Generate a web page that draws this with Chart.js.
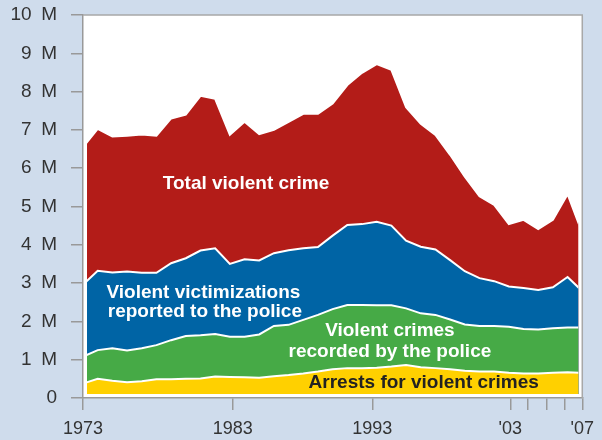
<!DOCTYPE html>
<html lang="en">
<head>
  <meta charset="UTF-8">
  <title>Violent crime</title>
  <style>
    html, body { margin: 0; padding: 0; background: #cfdcec; }
    .chartBox { width: 602px; height: 440px; }
  </style>
</head>
<body>
<div class="chartBox">
  <canvas id="myChart" width="602" height="440"></canvas>
</div>
<script src="https://cdn.jsdelivr.net/npm/chart.js"></script>
<script>
  // values in millions
  const years = [1973, 1974, 1975, 1976, 1977, 1978, 1979, 1980, 1981, 1982,
    1983, 1984, 1985, 1986, 1987, 1988, 1989, 1990, 1991, 1992,
    1993, 1994, 1995, 1996, 1997, 1998, 1999, 2000, 2001, 2002,
    2003, 2004, 2005, 2006, 2007];
  const totalCrime = [6.55, 7.03, 6.83, 6.85, 6.88, 6.85, 7.30, 7.40, 7.89, 7.81,
    6.87, 7.21, 6.89, 7.00, 7.21, 7.42, 7.42, 7.69, 8.17, 8.49,
    8.72, 8.57, 7.59, 7.16, 6.87, 6.35, 5.78, 5.27, 5.04, 4.54,
    4.65, 4.41, 4.65, 5.32, 4.31];
  const reportedToPolice = [2.96, 3.32, 3.28, 3.30, 3.27, 3.27, 3.52, 3.65, 3.85, 3.91,
    3.50, 3.62, 3.59, 3.78, 3.86, 3.91, 3.94, 4.24, 4.52, 4.54,
    4.60, 4.50, 4.11, 3.95, 3.88, 3.60, 3.31, 3.13, 3.05, 2.91,
    2.87, 2.82, 2.89, 3.16, 2.79];
  const recordedByPolice = [1.08, 1.25, 1.30, 1.24, 1.30, 1.38, 1.51, 1.62, 1.64, 1.67,
    1.60, 1.60, 1.66, 1.88, 1.91, 2.04, 2.17, 2.32, 2.43, 2.43,
    2.42, 2.42, 2.34, 2.21, 2.17, 2.05, 1.92, 1.88, 1.88, 1.86,
    1.80, 1.79, 1.82, 1.84, 1.84];
  const arrests = [0.38, 0.50, 0.45, 0.41, 0.44, 0.49, 0.49, 0.50, 0.51, 0.56,
    0.55, 0.54, 0.53, 0.57, 0.60, 0.64, 0.69, 0.75, 0.78, 0.78,
    0.79, 0.82, 0.86, 0.80, 0.78, 0.75, 0.71, 0.69, 0.69, 0.66,
    0.64, 0.64, 0.66, 0.67, 0.66];

  // tick marks sit where the original drawing put them
  const xTickAt = [1973, 1983.2, 1992.7, 2002.1, 2003.3, 2004.6, 2005.8, 2007];
  const xTickLabels = ['1973', '1983', '1993', "'03", '', '', '', "'07"];

  // in-chart labels: [text, year, value, colour]
  const notes = [
    ['Total violent crime', 1984.1, 5.59, '#ffffff'],
    ['Violent victimizations', 1981.2, 2.75, '#ffffff'],
    ['reported to the police', 1981.3, 2.24, '#ffffff'],
    ['Violent crimes', 1993.9, 1.75, '#ffffff'],
    ['recorded by the police', 1993.9, 1.20, '#ffffff'],
    ['Arrests for violent crimes', 1996.2, 0.39, '#222222']
  ];

  const FONT = "'Liberation Sans', Arial, Helvetica, sans-serif";

  function toPoints(arr) {
    return arr.map((v, i) => ({ x: years[i], y: v }));
  }

  const framePlugin = {
    id: 'frame',
    beforeDraw(chart) {
      const { ctx, chartArea: a } = chart;
      ctx.save();
      ctx.fillStyle = '#cfdcec';
      ctx.fillRect(0, 0, chart.width, chart.height);
      ctx.fillStyle = '#ffffff';
      ctx.fillRect(a.left, a.top, a.right - a.left, a.bottom - a.top);
      ctx.restore();
    },
    beforeDatasetsDraw(chart) {
      const { ctx, chartArea: a } = chart;
      ctx.save();
      ctx.beginPath();
      ctx.rect(a.left + 4, a.top + 4, a.right - a.left - 8, a.bottom - a.top - 8);
      ctx.clip();
    },
    afterDatasetsDraw(chart) {
      const { ctx, chartArea: a, scales } = chart;
      ctx.restore();

      ctx.save();
      ctx.strokeStyle = '#a8a8a8';
      ctx.lineWidth = 1.5;
      ctx.beginPath();
      ctx.moveTo(a.left, a.top);
      ctx.lineTo(a.right, a.top);
      ctx.lineTo(a.right, a.bottom);
      ctx.stroke();

      ctx.font = 'bold 19px ' + FONT;
      ctx.textAlign = 'center';
      ctx.textBaseline = 'middle';
      notes.forEach(n => {
        ctx.fillStyle = n[3];
        ctx.fillText(n[0], scales.x.getPixelForValue(n[1]), scales.y.getPixelForValue(n[2]));
      });
      ctx.restore();
    }
  };

  function area(label, data, color) {
    return {
      label: label,
      data: toPoints(data),
      backgroundColor: color,
      borderColor: '#ffffff',
      borderWidth: 2,
      fill: 'origin',
      tension: 0,
      pointRadius: 0,
      pointHoverRadius: 0
    };
  }

  const ctx = document.getElementById('myChart');
  const myChart = new Chart(ctx, {
    type: 'line',
    data: {
      datasets: [
        area('Arrests for violent crimes', arrests, '#ffd000'),
        area('Violent crimes recorded by the police', recordedByPolice, '#46aa46'),
        area('Violent victimizations reported to the police', reportedToPolice, '#0064a5'),
        area('Total violent crime', totalCrime, '#b31c18')
      ]
    },
    options: {
      responsive: false,
      maintainAspectRatio: false,
      animation: false,
      layout: { padding: { top: 15, right: 19, left: 0, bottom: 0 } },
      plugins: {
        legend: { display: false },
        tooltip: { enabled: false }
      },
      scales: {
        x: {
          type: 'linear',
          min: 1973,
          max: 2007,
          afterBuildTicks: (scale) => {
            scale.ticks = xTickAt.map(v => ({ value: v }));
          },
          afterFit: (scale) => { scale.height = 42; },
          grid: { drawOnChartArea: false, drawTicks: true, tickLength: 12, color: '#999999', lineWidth: 1.5 },
          border: { display: true, color: '#999999', width: 1.5 },
          ticks: {
            autoSkip: false,
            maxRotation: 0,
            padding: 8,
            color: '#333333',
            font: { family: FONT, size: 18 },
            callback: (value, index) => xTickLabels[index]
          }
        },
        y: {
          min: 0,
          max: 10,
          afterFit: (scale) => {
            scale.width = 83;
            scale.paddingTop = 0;
            scale.paddingBottom = 0;
          },
          grid: { drawOnChartArea: false, drawTicks: true, tickLength: 12, color: '#999999', lineWidth: 1.5 },
          border: { display: true, color: '#999999', width: 1.5 },
          ticks: {
            stepSize: 1,
            padding: 14,
            color: '#333333',
            font: { family: FONT, size: 19 },
            callback: (v) => v === 0 ? '0' : v + '\u2002M'
          }
        }
      }
    },
    plugins: [framePlugin]
  });
</script>
</body>
</html>
